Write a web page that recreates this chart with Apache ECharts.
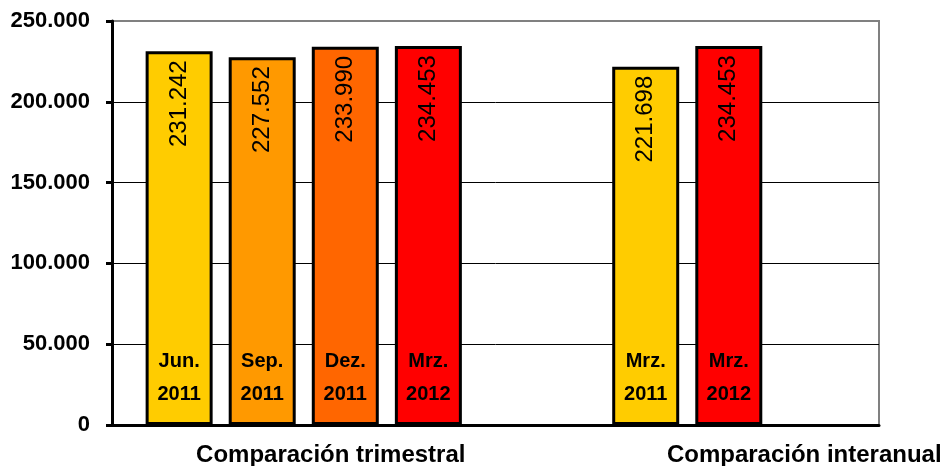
<!DOCTYPE html>
<html>
<head>
<meta charset="utf-8">
<script src="https://cdn.jsdelivr.net/npm/echarts@6/dist/echarts.min.js"></script>
<style>
  html, body { margin: 0; padding: 0; background: #fff; }
  #chart { width: 945px; height: 466px; }
</style>
</head>
<body>
<div id="chart"></div>
<script>
// two groups on the x axis, four bar slots per group (Excel style clustered columns)
const categories = ['Comparación trimestral', 'Comparación interanual'];
const slot1Values = [231242, '-'];
const slot2Values = [227552, 221698];
const slot3Values = [233990, 234453];
const slot4Values = [234453, '-'];
const slot1Periods = ['Jun.\n2011', ''];
const slot2Periods = ['Sep.\n2011', 'Mrz.\n2011'];
const slot3Periods = ['Dez.\n2011', 'Mrz.\n2012'];
const slot4Periods = ['Mrz.\n2012', ''];
const yTicks = [0, 50000, 100000, 150000, 200000, 250000];

(function () {
  const font = 'Arial, "Liberation Sans", sans-serif';
  // colour per period
  const periodColor = {
    'Jun.\n2011': '#FFCC00',
    'Mrz.\n2011': '#FFCC00',
    'Sep.\n2011': '#FF9900',
    'Dez.\n2011': '#FF6600',
    'Mrz.\n2012': '#FF0000'
  };
  const fmt = v => String(v).replace(/\B(?=(\d{3})+(?!\d))/g, '.');

  const slots = [
    [slot1Values, slot1Periods],
    [slot2Values, slot2Periods],
    [slot3Values, slot3Periods],
    [slot4Values, slot4Periods]
  ];

  const barWidth = 67;
  const barGap = '24%';
  const series = [];

  // coloured bars with the value written upwards at the top
  slots.forEach(([vals, periods]) => {
    series.push({
      type: 'bar', xAxisIndex: 0, barWidth: barWidth, barGap: barGap,
      data: vals.map((v, i) => v === '-' ? '-' : {
        value: v,
        itemStyle: { color: periodColor[periods[i]] }
      }),
      itemStyle: { borderColor: '#000', borderWidth: 3 },
      label: {
        show: true, position: 'insideTop', distance: 9, rotate: 90,
        align: 'right', verticalAlign: 'middle',
        formatter: p => fmt(p.value),
        color: '#000', fontFamily: font, fontSize: 24
      }
    });
  });

  // transparent twins on a hidden axis, only to carry the period text at the base
  slots.forEach(([vals, periods]) => {
    series.push({
      type: 'bar', xAxisIndex: 1, barWidth: barWidth, barGap: barGap, z: 5, silent: true,
      data: vals.map((v, i) => v === '-' ? '-' : { value: v, period: periods[i] }),
      itemStyle: { color: 'rgba(0,0,0,0)' },
      label: {
        show: true, position: 'insideBottom', distance: 14,
        formatter: p => p.data.period,
        color: '#000', fontFamily: font, fontSize: 20, fontWeight: 'bold', lineHeight: 33
      }
    });
  });

  const chart = echarts.init(document.getElementById('chart'));
  chart.setOption({
    animation: false,
    grid: {
      left: 112, right: 66, top: 21, bottom: 41,
      outerBoundsMode: 'none',
      show: true, borderColor: '#808080', borderWidth: 2
    },
    xAxis: [{
      type: 'category', data: categories,
      axisLine: { lineStyle: { color: '#000', width: 3 } },
      axisTick: { length: 7, lineStyle: { color: '#000', width: 3 } },
      axisLabel: {
        margin: 18, interval: 0,
        formatter: (v, i) => (i === 0 ? '{a|' : '{b|') + v + '}',
        rich: {
          a: { padding: [0, 0, 0, 54], fontFamily: font, fontSize: 24, fontWeight: 'bold', color: '#000' },
          b: { padding: [0, 0, 0, 234], fontFamily: font, fontSize: 24, fontWeight: 'bold', color: '#000' }
        }
      }
    }, {
      type: 'category', data: categories, show: false
    }],
    yAxis: {
      type: 'value', min: yTicks[0], max: yTicks[yTicks.length - 1], interval: yTicks[1] - yTicks[0],
      axisLine: { show: true, lineStyle: { color: '#000', width: 3 } },
      axisTick: { show: true, length: 6, lineStyle: { color: '#000', width: 3 } },
      axisLabel: {
        margin: 22, formatter: fmt,
        fontFamily: font, fontSize: 22, fontWeight: 'bold', color: '#000'
      },
      splitLine: {
        lineStyle: { color: ['#000', '#000', '#000', '#000', '#000', '#808080'], width: 1 }
      }
    },
    series: series
  });
})();
</script>
</body>
</html>
